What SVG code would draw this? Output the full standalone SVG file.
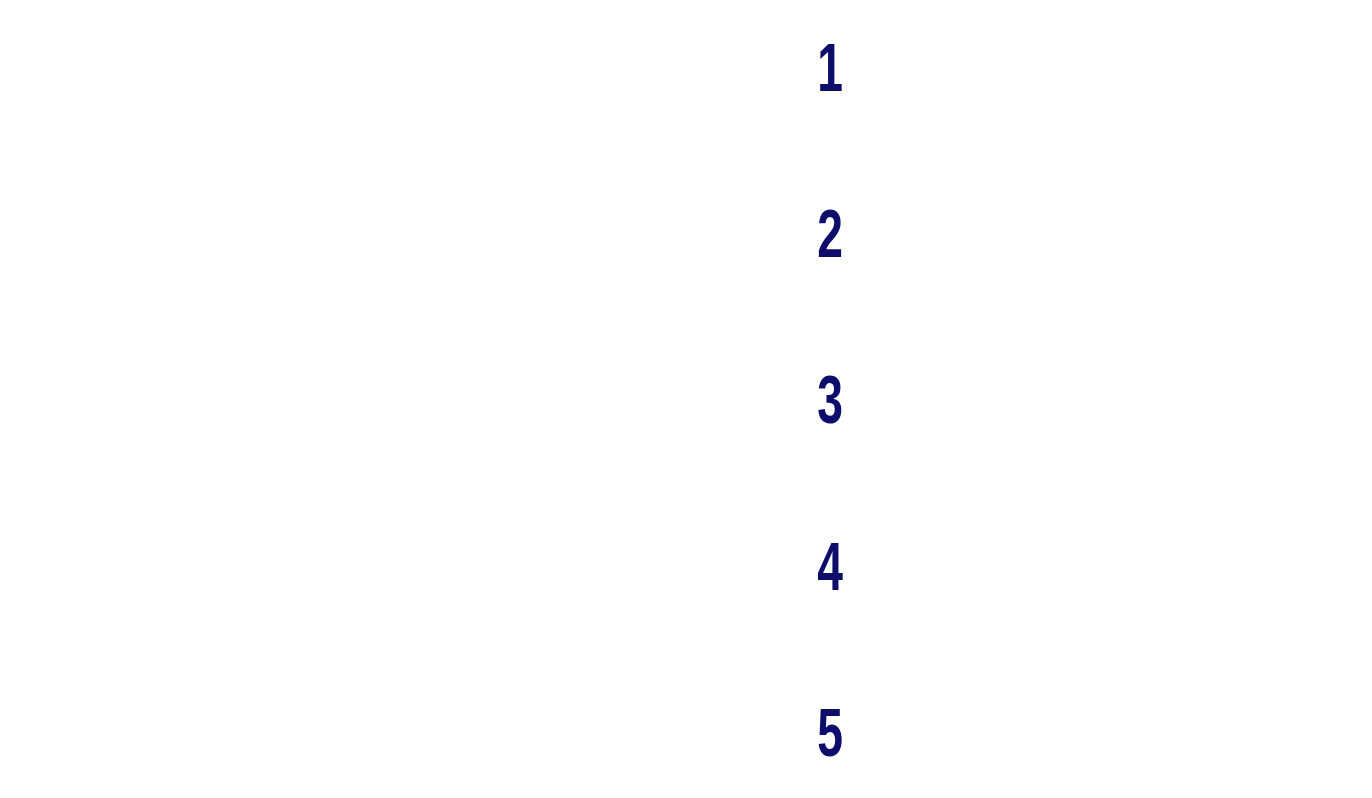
<svg xmlns="http://www.w3.org/2000/svg" width="1372" height="798" viewBox="0 0 1372 798">
<style>
.n{font-family:"Liberation Sans Narrow","Liberation Sans",sans-serif;font-weight:bold;font-size:68px;fill:#0d0d6c;text-anchor:middle}
</style>
<rect width="1372" height="798" fill="#ffffff"/>
<g id="num1"><text class="n" transform="translate(830,91) scale(0.68,1)">1</text></g>
<g id="num2"><text class="n" transform="translate(830,257) scale(0.68,1)">2</text></g>
<g id="num3"><text class="n" transform="translate(830,423) scale(0.68,1)">3</text></g>
<g id="num4"><text class="n" transform="translate(830,590) scale(0.68,1)">4</text></g>
<g id="num5"><text class="n" transform="translate(830,756) scale(0.68,1)">5</text></g>
<g id="connectors"></g>
</svg>
